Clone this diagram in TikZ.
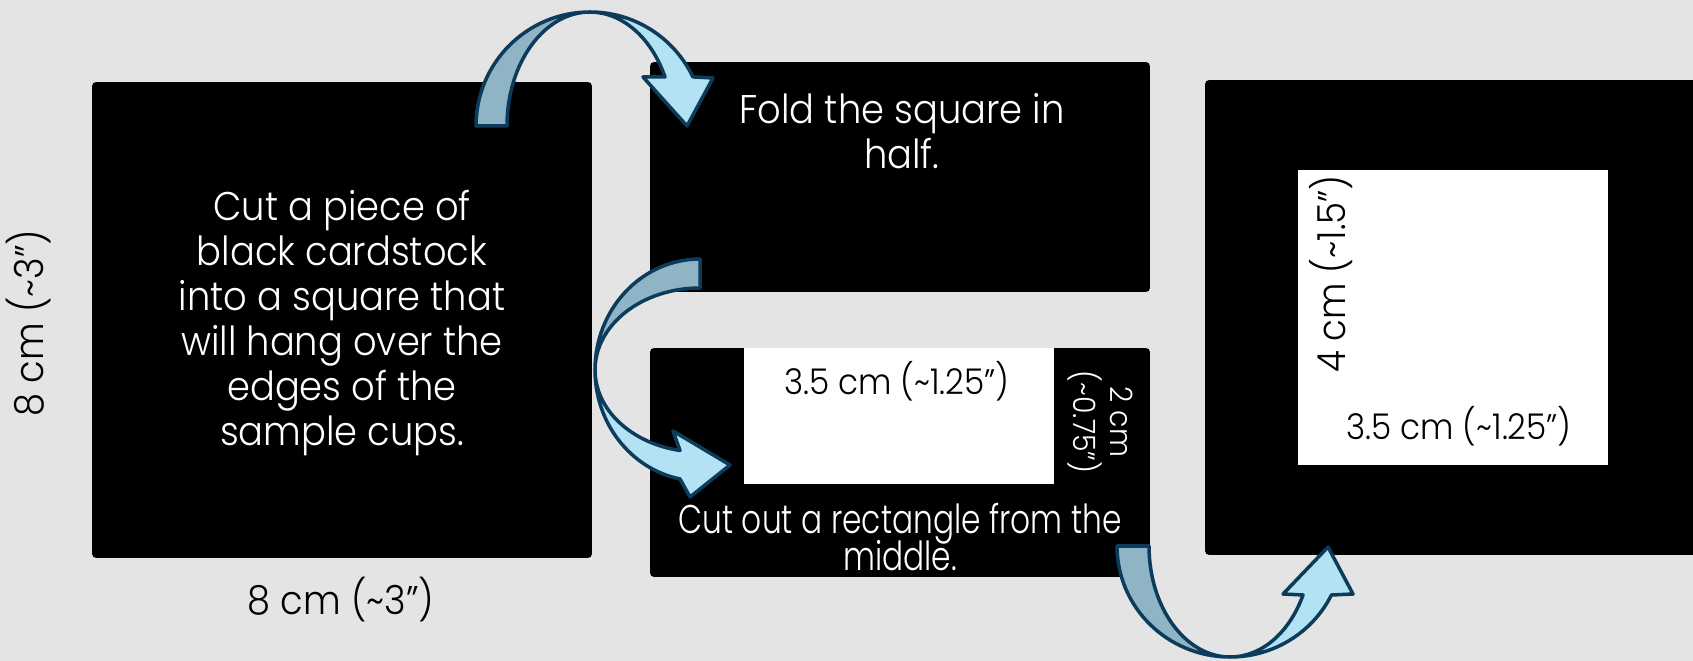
\documentclass[tikz,border=0pt]{standalone}
\usepackage{fontspec}
\IfFontExistsTF{Poppins Light}{%
	\setmainfont{Poppins Light}[FakeStretch=0.92]
	\newfontfamily\narrowfont{Poppins Light}[FakeStretch=0.78]
}{%
	\setmainfont{Poppins}[FakeStretch=0.92]
	\newfontfamily\narrowfont{Poppins}[FakeStretch=0.78]
}
\definecolor{slide}{HTML}{E4E4E4}
\definecolor{navy}{HTML}{0D3B5B}
\definecolor{steel}{HTML}{8EB4C5}
\definecolor{sky}{HTML}{B2E2F4}
\newcommand{\cardfont}{\fontsize{22.8}{25.6}\selectfont}
\newcommand{\dimfont}{\fontsize{20.2}{22}\selectfont}
\tikzset{
	card/.style={fill=black, rounded corners=2.3pt, inner sep=0pt},
	hole/.style={fill=white, inner sep=0pt},
	say/.style={text=white, align=center, font=\cardfont},
	dim/.style={text=black, font=\dimfont},
	back half/.style={draw=navy, fill=steel, line width=2pt, line join=round},
	front half/.style={draw=navy, fill=sky, line width=2pt, line join=round}
}

\begin{document}
\begin{tikzpicture}[x=0.02cm, y=-0.02cm]
	\fill[slide] (0,0) rectangle (1693,661);
	\useasboundingbox (0,0) rectangle (1693,661);
	\clip (0,0) rectangle (1693,661);
	
	% the three cards
	\node[card, minimum width=10cm, minimum height=9.52cm] (square) at (342,320) {};
	\node[card, minimum width=10cm, minimum height=4.6cm] (folded) at (900,177) {};
	\node[card, minimum width=10cm, minimum height=4.58cm] (cutout) at (900,462.5) {};
	\node[hole, minimum width=6.2cm, minimum height=2.72cm] (slot) at (899,416) {};
	\node[card, minimum width=9.92cm, minimum height=9.5cm] (frame) at (1453,317.5) {};
	\node[hole, minimum width=6.2cm, minimum height=5.9cm] (window) at (1453,317.5) {};
	
	\node[say] (step one) at (342,323) {Cut a piece of\\black cardstock\\into a square that\\will hang over the\\edges of the\\sample cups.};
	\node[dim, font=\cardfont, anchor=base] (square w) at (341,615) {8 cm (\textasciitilde3'')};
	\node[dim, font=\cardfont, anchor=base, rotate=90] (square h) at (43,323) {8 cm (\textasciitilde3'')};
	
	\node[say] (step two) at (902,131) {Fold the square in\\half.};
	
	\node[dim, anchor=base] (slot w) at (897,395) {3.5 cm (\textasciitilde1.25'')};
	\node[say, font=\fontsize{17.5}{21}\selectfont, rotate=-90] (slot h) at (1100,422) {2 cm\\(\textasciitilde0.75'')};
	\node[say, font={\narrowfont\fontsize{22.8}{20.5}\selectfont\lineskiplimit=-20pt}] (step three) at (900,537) {Cut out a rectangle from the\\middle.};
	
	\node[dim, font=\fontsize{22}{24}\selectfont, anchor=base, rotate=90] (window h) at (1345,274) {4 cm (\textasciitilde1.5'')};
	\node[dim, anchor=base] (window w) at (1459,440) {3.5 cm (\textasciitilde1.25'')};
	
	% curved arrows
	\draw[back half] (476,126) arc[start angle=180, end angle=270, x radius=114, y radius=114]
		arc[start angle=270, end angle=180, x radius=83, y radius=114] -- cycle;
	\draw[front half] (590,12) arc[start angle=270, end angle=334.5, x radius=114, y radius=114]
		-- (713,78) -- (687,126) -- (643,77) -- (665,77)
		arc[start angle=334.5, end angle=270, x radius=83, y radius=114] -- cycle;
	
	\draw[back half] (700,259) arc[start angle=270, end angle=180, x radius=105, y radius=111]
		arc[start angle=180, end angle=270, x radius=105, y radius=82] -- cycle;
	\draw[front half] (595,370) arc[start angle=180, end angle=101, x radius=105, y radius=111]
		-- (690,497) -- (730,465) -- (673,431) -- (680,450.5)
		arc[start angle=101, end angle=180, x radius=105, y radius=82] -- cycle;
	
	\draw[back half] (1117,546) arc[start angle=180, end angle=90, x radius=113, y radius=111]
		arc[start angle=90, end angle=180, x radius=81, y radius=111] -- cycle;
	\draw[front half] (1230,657) arc[start angle=90, end angle=26.2, x radius=113, y radius=111]
		-- (1353,594) -- (1328,547) -- (1283,594) -- (1303,595)
		arc[start angle=26.2, end angle=90, x radius=81, y radius=111] -- cycle;
\end{tikzpicture}
\end{document}
